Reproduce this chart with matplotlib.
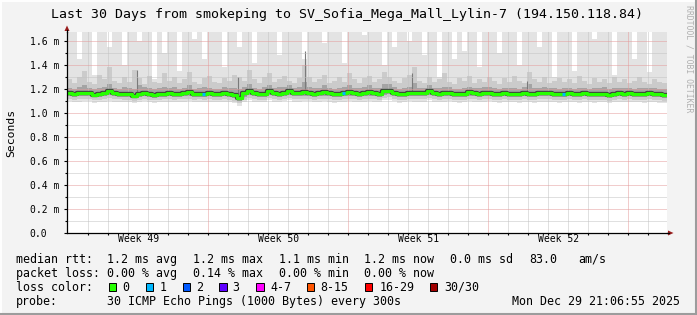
import numpy as np
import matplotlib
matplotlib.use("Agg")
import matplotlib.pyplot as plt
from matplotlib.patches import Rectangle, Polygon
from matplotlib.lines import Line2D

# ---------------- data ----------------
title = "Last 30 Days from smokeping to SV_Sofia_Mega_Mall_Lylin-7 (194.150.118.84)"
col_days = 0.25          # one column = 6 hours, 120 columns = 30 days

rtt_median = [
    1.170, 1.155, 1.165, 1.170, 1.170, 1.150, 1.155, 1.165, 1.180, 1.165,
    1.160, 1.160, 1.155, 1.145, 1.155, 1.170, 1.160, 1.150, 1.155, 1.160,
    1.165, 1.160, 1.160, 1.165, 1.175, 1.155, 1.160, 1.160, 1.165, 1.160,
    1.155, 1.165, 1.160, 1.150, 1.125, 1.165, 1.180, 1.165, 1.155, 1.160,
    1.180, 1.165, 1.160, 1.170, 1.180, 1.165, 1.165, 1.175, 1.170, 1.160,
    1.165, 1.175, 1.165, 1.155, 1.160, 1.165, 1.175, 1.165, 1.160, 1.165,
    1.175, 1.165, 1.160, 1.180, 1.185, 1.170, 1.155, 1.160, 1.170, 1.165,
    1.165, 1.165, 1.180, 1.165, 1.160, 1.165, 1.170, 1.160, 1.155, 1.160,
    1.175, 1.165, 1.160, 1.165, 1.170, 1.160, 1.155, 1.165, 1.160, 1.160,
    1.155, 1.165, 1.160, 1.155, 1.165, 1.165, 1.165, 1.160, 1.155, 1.160,
    1.165, 1.160, 1.155, 1.165, 1.160, 1.155, 1.160, 1.160, 1.150, 1.160,
    1.165, 1.160, 1.165, 1.160, 1.160, 1.155, 1.165, 1.160, 1.155, 1.150]

rtt_max = [
    1.70, 1.70, 1.45, 1.70, 1.70, 1.32, 1.70, 1.70, 1.55, 1.70,
    1.70, 1.40, 1.70, 1.70, 1.60, 1.70, 1.70, 1.28, 1.70, 1.50,
    1.70, 1.70, 1.35, 1.70, 1.70, 1.62, 1.70, 1.45, 1.70, 1.70,
    1.70, 1.38, 1.70, 1.70, 1.55, 1.70, 1.70, 1.42, 1.70, 1.70,
    1.70, 1.70, 1.48, 1.70, 1.70, 1.70, 1.70, 1.45, 1.70, 1.70,
    1.70, 1.58, 1.70, 1.70, 1.70, 1.42, 1.70, 1.70, 1.70, 1.65,
    1.70, 1.70, 1.70, 1.40, 1.70, 1.55, 1.70, 1.70, 1.60, 1.70,
    1.70, 1.48, 1.70, 1.70, 1.30, 1.70, 1.70, 1.45, 1.70, 1.52,
    1.70, 1.70, 1.38, 1.70, 1.70, 1.70, 1.50, 1.70, 1.70, 1.70,
    1.40, 1.70, 1.70, 1.70, 1.55, 1.70, 1.70, 1.30, 1.70, 1.70,
    1.70, 1.35, 1.70, 1.70, 1.70, 1.62, 1.70, 1.70, 1.70, 1.32,
    1.70, 1.70, 1.70, 1.45, 1.70, 1.70, 1.34, 1.70, 1.70, 1.70]

rtt_p90 = [
    1.28, 1.25, 1.30, 1.35, 1.26, 1.24, 1.32, 1.28, 1.38, 1.27,
    1.25, 1.30, 1.26, 1.36, 1.29, 1.24, 1.31, 1.26, 1.25, 1.33,
    1.27, 1.30, 1.25, 1.28, 1.34, 1.26, 1.24, 1.29, 1.31, 1.26,
    1.25, 1.29, 1.27, 1.32, 1.30, 1.27, 1.36, 1.28, 1.25, 1.30,
    1.33, 1.26, 1.28, 1.31, 1.27, 1.25, 1.29, 1.40, 1.30, 1.26,
    1.28, 1.32, 1.25, 1.27, 1.30, 1.26, 1.33, 1.28, 1.25, 1.29,
    1.31, 1.26, 1.28, 1.34, 1.30, 1.27, 1.25, 1.29, 1.32, 1.38,
    1.27, 1.25, 1.30, 1.26, 1.28, 1.33, 1.26, 1.24, 1.29, 1.27,
    1.31, 1.25, 1.28, 1.26, 1.30, 1.27, 1.24, 1.29, 1.26, 1.31,
    1.27, 1.25, 1.34, 1.28, 1.26, 1.30, 1.25, 1.27, 1.29, 1.26,
    1.28, 1.25, 1.31, 1.27, 1.24, 1.29, 1.26, 1.28, 1.25, 1.30,
    1.26, 1.28, 1.25, 1.27, 1.30, 1.26, 1.24, 1.28, 1.26, 1.25]

rtt_p75 = [
    1.21, 1.20, 1.22, 1.23, 1.21, 1.20, 1.21, 1.22, 1.24, 1.21,
    1.20, 1.22, 1.21, 1.20, 1.23, 1.22, 1.21, 1.20, 1.21, 1.22,
    1.21, 1.22, 1.20, 1.21, 1.23, 1.20, 1.21, 1.22, 1.21, 1.20,
    1.20, 1.22, 1.21, 1.21, 1.20, 1.22, 1.24, 1.21, 1.20, 1.22,
    1.23, 1.21, 1.22, 1.22, 1.23, 1.21, 1.22, 1.26, 1.22, 1.21,
    1.21, 1.23, 1.21, 1.20, 1.21, 1.22, 1.23, 1.21, 1.21, 1.22,
    1.23, 1.21, 1.21, 1.24, 1.24, 1.22, 1.20, 1.21, 1.22, 1.25,
    1.21, 1.21, 1.23, 1.21, 1.21, 1.22, 1.22, 1.20, 1.20, 1.21,
    1.22, 1.21, 1.21, 1.22, 1.22, 1.21, 1.20, 1.21, 1.21, 1.21,
    1.20, 1.22, 1.24, 1.21, 1.21, 1.22, 1.21, 1.21, 1.20, 1.21,
    1.21, 1.20, 1.21, 1.21, 1.20, 1.21, 1.21, 1.22, 1.20, 1.21,
    1.21, 1.21, 1.21, 1.20, 1.21, 1.21, 1.21, 1.21, 1.20, 1.20]

rtt_p25 = [
    1.140, 1.130, 1.140, 1.145, 1.140, 1.130, 1.135, 1.140, 1.150, 1.140,
    1.135, 1.135, 1.130, 1.125, 1.130, 1.145, 1.135, 1.125, 1.130, 1.135,
    1.140, 1.135, 1.135, 1.140, 1.145, 1.130, 1.135, 1.135, 1.140, 1.135,
    1.130, 1.140, 1.135, 1.125, 1.100, 1.135, 1.150, 1.140, 1.130, 1.135,
    1.150, 1.140, 1.135, 1.145, 1.150, 1.140, 1.140, 1.145, 1.145, 1.135,
    1.140, 1.145, 1.140, 1.130, 1.135, 1.140, 1.145, 1.140, 1.135, 1.140,
    1.145, 1.140, 1.135, 1.150, 1.155, 1.145, 1.130, 1.135, 1.145, 1.140,
    1.140, 1.140, 1.150, 1.140, 1.135, 1.140, 1.145, 1.135, 1.130, 1.135,
    1.145, 1.140, 1.135, 1.140, 1.145, 1.135, 1.130, 1.140, 1.135, 1.135,
    1.130, 1.140, 1.135, 1.130, 1.140, 1.140, 1.140, 1.135, 1.130, 1.135,
    1.140, 1.135, 1.130, 1.140, 1.135, 1.130, 1.135, 1.135, 1.125, 1.135,
    1.140, 1.135, 1.140, 1.135, 1.135, 1.130, 1.140, 1.135, 1.130, 1.125]

rtt_p10 = [
    1.120, 1.110, 1.115, 1.120, 1.120, 1.105, 1.110, 1.115, 1.125, 1.115,
    1.115, 1.110, 1.110, 1.100, 1.110, 1.120, 1.110, 1.105, 1.110, 1.115,
    1.115, 1.110, 1.115, 1.115, 1.120, 1.110, 1.115, 1.110, 1.115, 1.110,
    1.110, 1.115, 1.110, 1.100, 1.080, 1.110, 1.125, 1.115, 1.110, 1.110,
    1.125, 1.115, 1.110, 1.120, 1.125, 1.115, 1.115, 1.120, 1.120, 1.110,
    1.115, 1.120, 1.115, 1.105, 1.110, 1.115, 1.120, 1.115, 1.110, 1.115,
    1.120, 1.115, 1.110, 1.125, 1.130, 1.120, 1.105, 1.110, 1.120, 1.115,
    1.115, 1.115, 1.125, 1.115, 1.110, 1.115, 1.120, 1.110, 1.105, 1.110,
    1.120, 1.115, 1.110, 1.115, 1.120, 1.110, 1.105, 1.115, 1.110, 1.110,
    1.105, 1.115, 1.110, 1.105, 1.115, 1.115, 1.115, 1.110, 1.105, 1.110,
    1.115, 1.110, 1.105, 1.115, 1.110, 1.105, 1.110, 1.110, 1.100, 1.110,
    1.115, 1.110, 1.115, 1.110, 1.110, 1.105, 1.115, 1.110, 1.105, 1.100]

rtt_min = [
    1.100, 1.090, 1.095, 1.100, 1.100, 1.085, 1.090, 1.095, 1.100, 1.095,
    1.095, 1.090, 1.090, 1.080, 1.090, 1.100, 1.090, 1.085, 1.090, 1.095,
    1.095, 1.090, 1.095, 1.095, 1.100, 1.090, 1.095, 1.090, 1.095, 1.090,
    1.090, 1.095, 1.090, 1.080, 1.060, 1.090, 1.105, 1.095, 1.090, 1.090,
    1.105, 1.095, 1.090, 1.100, 1.105, 1.095, 1.095, 1.100, 1.100, 1.090,
    1.095, 1.100, 1.095, 1.085, 1.090, 1.095, 1.100, 1.095, 1.090, 1.095,
    1.100, 1.095, 1.090, 1.105, 1.110, 1.100, 1.085, 1.090, 1.100, 1.095,
    1.095, 1.095, 1.105, 1.095, 1.090, 1.095, 1.100, 1.090, 1.085, 1.090,
    1.100, 1.095, 1.090, 1.095, 1.100, 1.090, 1.085, 1.095, 1.090, 1.090,
    1.085, 1.095, 1.090, 1.085, 1.095, 1.095, 1.095, 1.090, 1.085, 1.090,
    1.095, 1.090, 1.085, 1.095, 1.090, 1.085, 1.090, 1.090, 1.080, 1.090,
    1.095, 1.090, 1.095, 1.090, 1.090, 1.085, 1.095, 1.090, 1.085, 1.080]

loss_cols = [27, 55, 99]          # columns with 1 lost ping
spike_days = [3.48, 8.55, 11.9, 17.23, 23.0]
spike_tops = [1.36, 1.30, 1.52, 1.33, 1.27]

y_major = [0.0, 0.2, 0.4, 0.6, 0.8, 1.0, 1.2, 1.4, 1.6]
y_minor = [0.1, 0.3, 0.5, 0.7, 0.9, 1.1, 1.3, 1.5]
y_labels = ["0.0", "0.2 m", "0.4 m", "0.6 m", "0.8 m", "1.0 m", "1.2 m", "1.4 m", "1.6 m"]
week_labels = ["Week 49", "Week 50", "Week 51", "Week 52"]
first_midnight = 0.06
first_week = 7.06

legend_rows = [
    [(16.0, "median rtt:"), (106.6, "1.2 ms avg"), (192.6, "1.2 ms max"), (278.6, "1.1 ms min"),
     (364.3, "1.2 ms now"), (450.3, "0.0 ms sd"), (529.3, "83.0"), (578.6, "am/s")],
    [(16.0, "packet loss:"), (106.6, "0.00 % avg"), (192.6, "0.14 % max"), (278.6, "0.00 % min"),
     (364.3, "0.00 % now")],
    [(16.0, "loss color:")],
    [(16.0, "probe:"), (106.6, "30 ICMP Echo Pings (1000 Bytes) every 300s")],
]
loss_labels = ["0", "1", "2", "3", "4-7", "8-15", "16-29", "30/30"]
loss_colors = ["#26ff00", "#00b8ff", "#0059ff", "#5e00ff", "#ff00ff", "#ff5500", "#ff0000", "#a00000"]
loss_box_x = [108.7, 145.7, 182.7, 219.3, 256.3, 306.7, 365.0, 430.0]
loss_text_x = [122.3, 160.0, 196.0, 232.6, 270.0, 320.3, 379.3, 444.3]
timestamp = "Mon Dec 29 21:06:55 2025"

# ---------------- figure ----------------
W, H = 697, 315
MONO = "DejaVu Sans Mono"
fig = plt.figure(figsize=(W / 100, H / 100), dpi=100, facecolor="#f3f3f3")

def fx(px):
    return px / W

def fy(py):
    return 1 - py / H

ax = fig.add_axes([fx(67), fy(233), 600 / W, 201 / H])
ax.set_facecolor("white")
ax.set_xlim(0, 30)
ax.set_ylim(0, 1.675)

n = len(rtt_median)
x_edges = np.arange(n + 1) * col_days

def ext(a):
    a = np.asarray(a, dtype=float)
    return np.append(a, a[-1])

ax.fill_between(x_edges, ext(rtt_min), ext(rtt_max), step="post", color="#e3e3e3", lw=0, zorder=1)
ax.fill_between(x_edges, ext(rtt_p10), ext(rtt_p90), step="post", color="#cbcbcb", lw=0, zorder=1.1)
ax.fill_between(x_edges, ext(rtt_p25), ext(rtt_p75), step="post", color="#a4a4a4", lw=0, zorder=1.2)
ax.vlines(spike_days, [rtt_median[int(d / col_days)] for d in spike_days], spike_tops,
          color="#7a7a7a", lw=0.8, zorder=1.3)

# grid (dotted, drawn over the smoke)
dot = (0, (1, 1))
for v in y_minor:
    ax.axhline(v, color="#c2c2c2", lw=0.72, ls=dot, zorder=2)
for v in y_major[1:]:
    ax.axhline(v, color="#e49a9a", lw=0.72, ls=dot, zorder=2.1)
day_lines = [first_midnight + k for k in range(1, 30)]
week_lines = [first_week + 7 * k for k in range(4)]
for d in day_lines:
    if min(abs(d - w) for w in week_lines) > 0.01:
        ax.axvline(d, color="#c2c2c2", lw=0.72, ls=dot, zorder=2)
for w in week_lines:
    ax.axvline(w, color="#e49a9a", lw=0.72, ls=dot, zorder=2.1)

# median line
med_ext = ext(rtt_median)
ax.step(x_edges, med_ext, where="post", color="#404040", lw=3.1, zorder=3, solid_capstyle="butt")
ax.step(x_edges, med_ext, where="post", color=loss_colors[0], lw=2.3, zorder=3.1, solid_capstyle="butt")
for c in loss_cols:
    ax.hlines(rtt_median[c], x_edges[c], x_edges[c] + col_days * 0.6, color=loss_colors[1],
              lw=2.3, zorder=3.2)

# axes
for s in ["top", "right"]:
    ax.spines[s].set_visible(False)
for s in ["left", "bottom"]:
    ax.spines[s].set_color("black")
    ax.spines[s].set_linewidth(0.9)
    ax.spines[s].set_zorder(5)

ax.set_yticks(y_major)
ax.set_yticklabels(y_labels, fontfamily=MONO, fontsize=7)
ax.set_yticks(y_minor, minor=True)
ax.tick_params(axis="y", which="major", direction="out", length=2.5, width=0.8, pad=24.4)
ax.tick_params(axis="y", which="minor", direction="out", length=1.6, width=0.8)
for lbl in ax.get_yticklabels():
    lbl.set_horizontalalignment("left")

ax.set_xticks([w - 3.5 for w in week_lines])
ax.set_xticklabels(week_labels, fontfamily=MONO, fontsize=7)
ax.set_xticks(day_lines, minor=True)
ax.tick_params(axis="x", which="major", length=0, pad=0.6)
ax.tick_params(axis="x", which="minor", direction="out", length=1.6, width=0.8)

# arrows
arrow_col = "#9a1c1c"
fig.add_artist(Line2D([fx(667), fx(669)], [fy(233), fy(233)], color="black", lw=0.9))
fig.add_artist(Polygon([[fx(668), fy(230.5)], [fx(673.5), fy(233)], [fx(668), fy(235.5)]],
                       closed=True, transform=fig.transFigure, color=arrow_col, lw=0))
fig.add_artist(Line2D([fx(67), fx(67)], [fy(32), fy(30)], color="black", lw=0.9))
fig.add_artist(Polygon([[fx(64.5), fy(31)], [fx(67), fy(25.5)], [fx(69.5), fy(31)]],
                       closed=True, transform=fig.transFigure, color=arrow_col, lw=0))

# texts
fig.text(fx(347), fy(18.3), title, ha="center", va="baseline", fontfamily=MONO, fontsize=9.5)
fig.text(fx(11.5), fy(132.5), "Seconds", rotation=90, ha="center", va="center",
         fontfamily=MONO, fontsize=8.2)
fig.text(fx(688.5), fy(59), "RRDTOOL / TOBI OETIKER", rotation=270, ha="center", va="center",
         fontfamily=MONO, fontsize=5.9, color="#b0b0b0")

baselines = [263.0, 276.8, 290.7, 304.6]
for row, yb in zip(legend_rows, baselines):
    for xpos, txt in row:
        fig.text(fx(xpos), fy(yb), txt, ha="left", va="baseline", fontfamily=MONO, fontsize=8.4)
fig.text(fx(680.3), fy(baselines[3]), timestamp, ha="right", va="baseline", fontfamily=MONO, fontsize=8.4)

for bx, tx, lab, col in zip(loss_box_x, loss_text_x, loss_labels, loss_colors):
    fig.add_artist(Rectangle((fx(bx), fy(291.0)), 7.4 / W, 7.8 / H, transform=fig.transFigure,
                             facecolor=col, edgecolor="black", lw=0.7))
    fig.text(fx(tx), fy(baselines[2]), lab, ha="left", va="baseline", fontfamily=MONO, fontsize=8.4)

# frame
fig.add_artist(Line2D([0, 1], [fy(0.5), fy(0.5)], color="white", lw=1.4))
fig.add_artist(Line2D([fx(0.5), fx(0.5)], [0, 1], color="white", lw=1.4))
fig.add_artist(Line2D([0, 1], [fy(314), fy(314)], color="#9c9c9c", lw=1.5))
fig.add_artist(Line2D([fx(696), fx(696)], [0, 1], color="#9c9c9c", lw=1.5))

fig.savefig("out.png", dpi=100, facecolor=fig.get_facecolor())
